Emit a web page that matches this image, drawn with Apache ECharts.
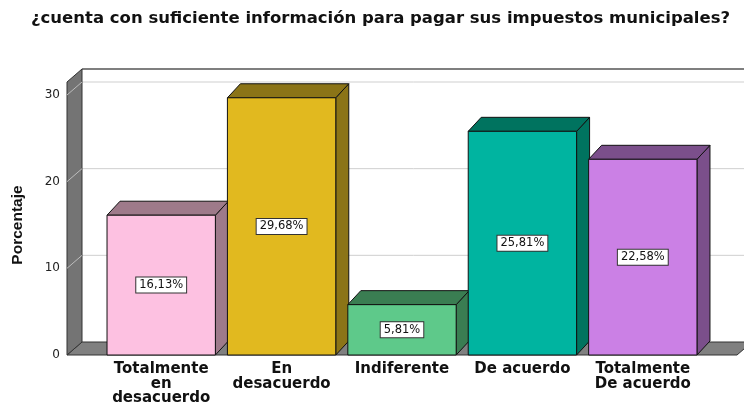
<!DOCTYPE html>
<html>
<head>
<meta charset="utf-8">
<script src="https://cdn.jsdelivr.net/npm/echarts@6/dist/echarts.min.js"></script>
<style>
  html, body { margin: 0; padding: 0; background: #fff; }
  #chart { width: 744px; height: 403px; }
</style>
</head>
<body>
<div id="chart"></div>
<script>
var categories = ['Totalmente\nen\ndesacuerdo', 'En\ndesacuerdo', 'Indiferente', 'De acuerdo', 'Totalmente\nDe acuerdo'];
var porcentajes = [16.13, 29.68, 5.81, 25.81, 22.58];
var yTicks = [0, 10, 20, 30];

// colores: cara frontal y caras laterales/superior
var frontColors = ['#fdc1e1', '#e1b91f', '#5ec98a', '#00b4a0', '#cb80e5'];
var shadeColors = ['#9e7a8a', '#8b7417', '#3a7d52', '#00735f', '#7b4f8b'];

var chart = echarts.init(document.getElementById('chart'));

function fmt(v) {
  return v.toFixed(2).replace('.', ',') + '%';
}

// caja 3D: pared izquierda, suelo y lineas de fondo
function renderBox(params, api) {
  var cs = params.coordSys;
  var pad = 34, dx = 15, dy = 13;
  var left = cs.x - pad, right = cs.x + cs.width + pad;
  var bottom = api.coord([0, 0])[1];
  var wallTop = api.coord([0, 31.5])[1];
  var kids = [];

  yTicks.forEach(function (t) {
    if (t === 0) return;
    var y = api.coord([0, t])[1];
    kids.push({ type: 'line', shape: { x1: left + dx, y1: y - dy, x2: right + dx, y2: y - dy },
      style: { stroke: '#cfcfcf', lineWidth: 1 } });
  });
  kids.push({ type: 'line', shape: { x1: left + dx, y1: wallTop - dy, x2: right + dx, y2: wallTop - dy },
    style: { stroke: '#555', lineWidth: 1.5 } });

  kids.push({ type: 'polygon',
    shape: { points: [[left, bottom], [right, bottom], [right + dx, bottom - dy], [left + dx, bottom - dy]] },
    style: { fill: '#808080', stroke: '#333', lineWidth: 1 } });
  kids.push({ type: 'polygon',
    shape: { points: [[left, bottom], [left, wallTop], [left + dx, wallTop - dy], [left + dx, bottom - dy]] },
    style: { fill: '#747474', stroke: '#333', lineWidth: 1 } });

  yTicks.forEach(function (t) {
    if (t === 0) return;
    var y = api.coord([0, t])[1];
    kids.push({ type: 'line', shape: { x1: left, y1: y, x2: left + dx, y2: y - dy },
      style: { stroke: '#bdbdbd', lineWidth: 1 } });
  });
  return { type: 'group', children: kids };
}

function renderBar(params, api) {
  var i = params.dataIndex;
  var base = api.coord([api.value(0), 0]);
  var top = api.coord([api.value(0), api.value(1)]);
  var w = api.size([1, 0])[0] * 0.9;
  var x0 = base[0] - w / 2, x1 = base[0] + w / 2;
  var y0 = base[1], y1 = top[1];
  var dx = 13, dy = 14;
  var edge = '#111';
  return {
    type: 'group',
    children: [
      { type: 'polygon',
        shape: { points: [[x1, y1], [x1 + dx, y1 - dy], [x1 + dx, y0 - dy], [x1, y0]] },
        style: { fill: shadeColors[i], stroke: edge, lineWidth: 1 } },
      { type: 'polygon',
        shape: { points: [[x0, y1], [x0 + dx, y1 - dy], [x1 + dx, y1 - dy], [x1, y1]] },
        style: { fill: shadeColors[i], stroke: edge, lineWidth: 1 } },
      { type: 'rect',
        shape: { x: x0, y: y1, width: w, height: y0 - y1 },
        style: { fill: frontColors[i], stroke: edge, lineWidth: 1 } },
      { type: 'text', x: base[0], y: (y0 + y1) / 2,
        style: {
          text: fmt(api.value(1)),
          align: 'center', verticalAlign: 'middle',
          fontFamily: 'DejaVu Sans', fontSize: 11.5, fill: '#111',
          backgroundColor: '#fff', borderColor: '#333', borderWidth: 1,
          padding: [2, 3, 1, 3]
        } }
    ]
  };
}

var option = {
  backgroundColor: '#fff',
  animation: false,
  title: {
    text: '¿cuenta con suficiente información para pagar sus impuestos municipales?',
    left: 26,
    top: 5,
    textStyle: { fontFamily: 'DejaVu Sans', fontWeight: 'bold', fontSize: 16.5, color: '#111' }
  },
  grid: { left: 101, right: 41, top: 95, bottom: 48, outerBoundsMode: 'none' },
  xAxis: {
    type: 'category',
    data: categories,
    axisLine: { show: false },
    axisTick: { show: false },
    axisLabel: {
      interval: 0,
      margin: 7,
      fontFamily: 'DejaVu Sans',
      fontWeight: 'bold',
      fontSize: 15,
      lineHeight: 14.5,
      color: '#111'
    }
  },
  yAxis: {
    type: 'value',
    min: 0,
    max: 30,
    interval: 10,
    offset: 34,
    name: 'Porcentaje',
    nameLocation: 'middle',
    nameGap: 41,
    nameTextStyle: { fontFamily: 'Liberation Sans', fontWeight: 'bold', fontSize: 15.5, color: '#111' },
    axisLine: { show: false },
    axisTick: { show: false },
    splitLine: { show: false },
    axisLabel: { margin: 7, fontFamily: 'DejaVu Sans', fontSize: 12, color: '#222' }
  },
  series: [
    {
      type: 'custom',
      clip: false,
      z: 1,
      silent: true,
      renderItem: renderBox,
      data: [[0, 0]]
    },
    {
      type: 'custom',
      clip: false,
      z: 2,
      renderItem: renderBar,
      encode: { x: 0, y: 1 },
      data: porcentajes.map(function (v, i) { return [i, v]; })
    }
  ]
};

chart.setOption(option);
</script>
</body>
</html>
